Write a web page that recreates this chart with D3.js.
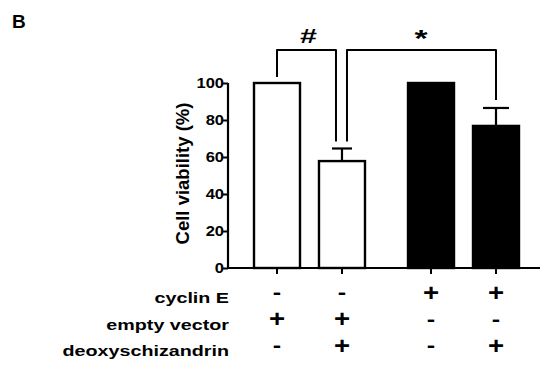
<!DOCTYPE html>
<html>
<head>
<meta charset="utf-8">
<script src="https://cdn.jsdelivr.net/npm/d3@7"></script>
<style>
  body { margin: 0; background: #fff; }
  text { font-family: "Liberation Sans", Arial, sans-serif; font-weight: bold; fill: #000; }
</style>
</head>
<body>
<div id="chart"></div>
<script>
const groups = ["g1", "g2", "g3", "g4"];
const values = [100, 57.8, 100, 76.8];
const errors = [0, 6.8, 0, 9.7];
const fills = ["white", "white", "black", "black"];
const yTicks = [0, 20, 40, 60, 80, 100];
const rowLabels = ["cyclin E", "empty vector", "deoxyschizandrin"];
const rowSigns = [
  ["-", "-", "+", "+"],
  ["+", "+", "-", "-"],
  ["-", "+", "-", "+"]
];
// significance brackets: [from group, to group, label]
const brackets = [["g1", "g2", "#"], ["g2", "g4", "*"]];

const width = 550, height = 368;
const stretch = 1.36; // the original figure text is horizontally stretched
const svg = d3.select("#chart").append("svg").attr("width", width).attr("height", height);

// white pair and black pair, with a wider gap between the pairs
const slots = { g1: 0, g2: 1, g3: 2.37, g4: 3.37 };
const x = d3.scaleLinear().domain([0, 3.37]).range([277, 496]);
const xc = (g) => x(slots[g]);
const barW = 48;
const y = d3.scaleLinear().domain([0, 100]).range([268, 83]);

// panel letter
svg.append("text").attr("x", 12).attr("y", 28).attr("font-size", 19).text("B");

// y axis
const yAxis = svg.append("g").attr("transform", "translate(228,0)")
  .call(d3.axisLeft(y).tickValues(yTicks).tickSize(5).tickFormat(""));
yAxis.select(".domain").attr("stroke-width", 2.2).attr("d", `M0,${y(0)}V${y(100)}`);
yAxis.selectAll(".tick line").attr("stroke-width", 2);
svg.selectAll(".ytl").data(yTicks).enter().append("text")
  .attr("transform", (d) => `translate(224,${y(d) + 5}) scale(1.18,1)`)
  .attr("text-anchor", "end").attr("font-size", 14).text((d) => d);

// x axis
svg.append("line").attr("x1", 227).attr("x2", 540).attr("y1", y(0)).attr("y2", y(0))
  .attr("stroke", "#000").attr("stroke-width", 2.2);
svg.selectAll(".xtick").data(groups).enter().append("line")
  .attr("x1", xc).attr("x2", xc).attr("y1", y(0)).attr("y2", y(0) + 6)
  .attr("stroke", "#000").attr("stroke-width", 2);

// y label
svg.append("text").attr("transform", `translate(189,${(y(0) + y(100)) / 2 - 2}) rotate(-90)`)
  .attr("text-anchor", "middle").attr("font-size", 18.5).text("Cell viability (%)");

// error bars (behind bars)
groups.forEach((g, i) => {
  if (errors[i] > 0) {
    const top = y(values[i] + errors[i]);
    const half = i === 1 ? 10 : 13;
    svg.append("line").attr("x1", xc(g)).attr("x2", xc(g)).attr("y1", y(values[i])).attr("y2", top)
      .attr("stroke", "#000").attr("stroke-width", 2.2);
    svg.append("line").attr("x1", xc(g) - half).attr("x2", xc(g) + half).attr("y1", top).attr("y2", top)
      .attr("stroke", "#000").attr("stroke-width", 2.2);
  }
});

// bars
svg.selectAll(".bar").data(groups).enter().append("rect")
  .attr("x", (g) => xc(g) - barW / 2 + 1)
  .attr("width", barW - 2)
  .attr("y", (g, i) => y(values[i]))
  .attr("height", (g, i) => y(0) - y(values[i]))
  .attr("fill", (g, i) => fills[i])
  .attr("stroke", "#000").attr("stroke-width", 2.4);

// significance brackets
const bTop = 50;
const leg2 = y(values[1] + errors[1]) - 7;
svg.append("path").attr("fill", "none").attr("stroke", "#000").attr("stroke-width", 2)
  .attr("stroke-linejoin", "round")
  .attr("d", `M${xc("g1")},${y(100) - 6}V${bTop}H${xc("g2") - 6}V${leg2}`);
svg.append("text").attr("transform", `translate(${(xc("g1") + xc("g2") - 6) / 2 + 2},43) scale(1.45,1)`)
  .attr("text-anchor", "middle").attr("font-size", 21).text(brackets[0][2]);
svg.append("path").attr("fill", "none").attr("stroke", "#000").attr("stroke-width", 2)
  .attr("stroke-linejoin", "round")
  .attr("d", `M${xc("g2") + 5},${leg2}V${bTop}H${xc("g4")}V${y(values[3] + errors[3]) - 8}`);
svg.append("text").attr("transform", "translate(421,47) scale(1.4,1)")
  .attr("text-anchor", "middle").attr("font-size", 24).text(brackets[1][2]);

// condition table
const rowBase = [303, 329.5, 356];
const rowMid = [293, 319.5, 346];
rowLabels.forEach((lab, r) => {
  svg.append("text").attr("transform", `translate(229,${rowBase[r]}) scale(${stretch},1)`)
    .attr("text-anchor", "end").attr("font-size", 14.5).text(lab);
  groups.forEach((g, i) => {
    const s = rowSigns[r][i];
    const fs = s === "+" ? 23 : 21;
    const off = s === "+" ? 0.34 * fs : 0.3 * fs;
    svg.append("text").attr("transform", `translate(${xc(g)},${rowMid[r] + off}) scale(1.2,1)`)
      .attr("text-anchor", "middle").attr("font-size", fs).text(s);
  });
});
</script>
</body>
</html>
